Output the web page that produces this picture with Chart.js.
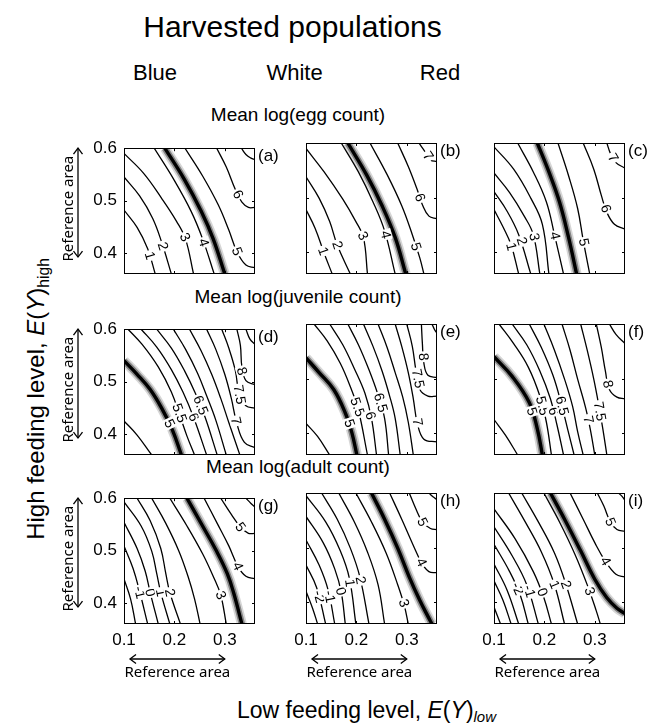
<!DOCTYPE html>
<html><head><meta charset="utf-8">
<script src="https://cdn.jsdelivr.net/npm/chart.js@4.4.1/dist/chart.umd.min.js"></script>
<style>
html,body{margin:0;padding:0;background:#fff;}
#page{position:relative;width:663px;height:725px;overflow:hidden;background:#fff;font-family:"Liberation Sans",Arial,Helvetica,sans-serif;color:#000;}
.t{position:absolute;white-space:nowrap;line-height:1;}
canvas{position:absolute;}
</style></head><body><div id="page"></div>
<script>
// ---------- text / ticks ----------
const mainTitle = 'Harvested populations';
const columns = ['Blue', 'White', 'Red'];
const rowTitles = ['Mean log(egg count)', 'Mean log(juvenile count)', 'Mean log(adult count)'];
const panelLetters = ['(a)','(b)','(c)','(d)','(e)','(f)','(g)','(h)','(i)'];
const xTicks = [0.1, 0.2, 0.3];
const yTicks = [0.4, 0.5, 0.6];
const xRange = [0.1, 0.36];
const yRange = [0.36, 0.6];
const refAreaX = [0.1, 0.3];
const refAreaY = [0.4, 0.6];
const refAreaText = 'Reference area';

// ---------- (a) egg, Blue ----------
const eggBlueLines = [
  [[0.100,0.482],[0.126,0.449],[0.147,0.408],[0.162,0.36]],
  [[0.100,0.545],[0.131,0.509],[0.157,0.466],[0.175,0.42],[0.194,0.36]],
  [[0.100,0.590],[0.139,0.552],[0.175,0.504],[0.204,0.461],[0.222,0.427],[0.238,0.36]],
  [[0.160,0.6],[0.199,0.54],[0.233,0.48],[0.256,0.427],[0.279,0.36]],
  [[0.221,0.6],[0.256,0.547],[0.287,0.492],[0.308,0.444],[0.324,0.403],[0.342,0.377],[0.36,0.372]],
  [[0.284,0.6],[0.303,0.564],[0.321,0.521],[0.334,0.497],[0.347,0.487],[0.36,0.487]],
  [[0.333,0.6],[0.342,0.588],[0.352,0.581],[0.36,0.578]]
];
const eggBlueRef = [[0.181,0.6],[0.220,0.54],[0.253,0.48],[0.277,0.427],[0.300,0.36]];
const eggBlueLabels = [['1',0,0.151,0.395],['2',1,0.177,0.413],['3',2,0.221,0.43],['4',3,0.258,0.42],['5',4,0.324,0.403],['6',5,0.326,0.512]];

// ---------- (b) egg, White ----------
const eggWhiteLines = [
  [[0.100,0.478],[0.118,0.444],[0.136,0.398],[0.152,0.36]],
  [[0.100,0.538],[0.126,0.499],[0.147,0.456],[0.162,0.413],[0.188,0.36]],
  [[0.100,0.590],[0.136,0.547],[0.173,0.497],[0.199,0.456],[0.214,0.427],[0.222,0.36]],
  [[0.170,0.6],[0.204,0.547],[0.233,0.492],[0.256,0.439],[0.277,0.36]],
  [[0.227,0.6],[0.261,0.542],[0.290,0.485],[0.311,0.432],[0.326,0.389],[0.334,0.36]],
  [[0.282,0.6],[0.303,0.557],[0.321,0.514],[0.331,0.487],[0.344,0.466],[0.36,0.461]],
  [[0.324,0.6],[0.337,0.583],[0.347,0.569],[0.36,0.566]]
];
const eggWhiteRef = [[0.183,0.6],[0.220,0.542],[0.251,0.485],[0.277,0.427],[0.298,0.36]];
const eggWhiteLabels = [['1',0,0.134,0.402],['2',1,0.162,0.413],['3',2,0.213,0.43],['4',3,0.258,0.432],['5',4,0.318,0.41],['6',5,0.326,0.5],['7',6,0.342,0.576]];

// ---------- (c) egg, Red ----------
const eggRedLines = [
  [[0.100,0.478],[0.118,0.446],[0.134,0.413],[0.149,0.36]],
  [[0.100,0.511],[0.126,0.475],[0.149,0.432],[0.173,0.36]],
  [[0.100,0.545],[0.131,0.509],[0.160,0.466],[0.178,0.432],[0.191,0.36]],
  [[0.100,0.593],[0.139,0.552],[0.173,0.499],[0.196,0.451],[0.209,0.36]],
  [[0.147,0.6],[0.178,0.547],[0.204,0.492],[0.220,0.432],[0.238,0.36]],
  [[0.227,0.6],[0.248,0.54],[0.266,0.48],[0.277,0.422],[0.290,0.36]],
  [[0.277,0.6],[0.298,0.552],[0.313,0.504],[0.324,0.473],[0.339,0.451],[0.36,0.442]],
  [[0.324,0.6],[0.331,0.581],[0.342,0.564],[0.36,0.554]]
];
const eggRedRef = [[0.186,0.6],[0.209,0.547],[0.230,0.492],[0.248,0.427],[0.264,0.36]];
const eggRedLabels = [['1',0,0.134,0.41],['2',1,0.155,0.42],['3',2,0.180,0.428],['4',4,0.221,0.43],['5',5,0.278,0.418],['6',6,0.322,0.48],['7',7,0.336,0.573]];

// ---------- (d) juvenile, Blue ----------
const juvBlueLines = [
  [[0.100,0.425],[0.126,0.398],[0.155,0.36]],
  [[0.108,0.6],[0.136,0.571],[0.168,0.528],[0.194,0.48],[0.212,0.432],[0.225,0.396],[0.240,0.36]],
  [[0.134,0.6],[0.165,0.566],[0.194,0.523],[0.217,0.48],[0.238,0.432],[0.264,0.36]],
  [[0.165,0.6],[0.194,0.564],[0.220,0.521],[0.243,0.475],[0.261,0.432],[0.285,0.36]],
  [[0.198,0.6],[0.222,0.562],[0.246,0.516],[0.264,0.473],[0.282,0.427],[0.303,0.36]],
  [[0.230,0.6],[0.253,0.559],[0.274,0.514],[0.292,0.468],[0.308,0.422],[0.330,0.36]],
  [[0.264,0.6],[0.282,0.562],[0.300,0.514],[0.313,0.468],[0.324,0.42],[0.339,0.384],[0.36,0.374]],
  [[0.294,0.6],[0.308,0.564],[0.321,0.521],[0.329,0.475],[0.342,0.454],[0.36,0.449]],
  [[0.324,0.6],[0.331,0.569],[0.334,0.528],[0.342,0.502],[0.36,0.494]],
  [[0.342,0.6],[0.350,0.581],[0.36,0.571]]
];
const juvBlueRef = [[0.100,0.540],[0.126,0.514],[0.152,0.485],[0.175,0.449],[0.196,0.408],[0.214,0.36]];
const juvBlueLabels = [['5',-1,0.190,0.42],['5.5',1,0.210,0.44],['6',2,0.238,0.432],['6.5',3,0.252,0.455],['7',6,0.322,0.425],['7.5',7,0.329,0.475],['8',8,0.334,0.52]];

// ---------- (e) juvenile, White ----------
const juvWhiteLines = [
  [[0.100,0.418],[0.123,0.394],[0.147,0.36]],
  [[0.116,0.6],[0.142,0.569],[0.168,0.528],[0.188,0.485],[0.204,0.442],[0.222,0.36]],
  [[0.147,0.6],[0.173,0.562],[0.196,0.518],[0.217,0.473],[0.230,0.427],[0.240,0.36]],
  [[0.183,0.6],[0.204,0.562],[0.225,0.516],[0.243,0.470],[0.256,0.427],[0.264,0.36]],
  [[0.214,0.6],[0.233,0.559],[0.251,0.514],[0.266,0.468],[0.277,0.427],[0.287,0.36]],
  [[0.243,0.6],[0.261,0.557],[0.277,0.511],[0.292,0.466],[0.303,0.42],[0.313,0.36]],
  [[0.277,0.6],[0.290,0.559],[0.303,0.511],[0.313,0.463],[0.321,0.418],[0.334,0.389],[0.36,0.384]],
  [[0.300,0.6],[0.311,0.559],[0.318,0.516],[0.326,0.48],[0.342,0.468],[0.36,0.468]],
  [[0.329,0.6],[0.331,0.564],[0.334,0.528],[0.342,0.506],[0.36,0.502]],
  [[0.350,0.6],[0.355,0.59],[0.36,0.583]]
];
const juvWhiteRef = [[0.100,0.538],[0.126,0.511],[0.155,0.48],[0.178,0.437],[0.191,0.401],[0.201,0.36]];
const juvWhiteLabels = [['5',-1,0.186,0.418],['5.5',1,0.202,0.448],['6',2,0.228,0.432],['6.5',3,0.248,0.456],['7',6,0.321,0.42],['7.5',7,0.322,0.5],['8',8,0.333,0.54]];

// ---------- (f) juvenile, Red ----------
const juvRedLines = [
  [[0.100,0.425],[0.123,0.396],[0.147,0.36]],
  [[0.110,0.6],[0.139,0.564],[0.168,0.521],[0.191,0.468],[0.204,0.42],[0.214,0.36]],
  [[0.136,0.6],[0.165,0.562],[0.191,0.514],[0.212,0.463],[0.225,0.415],[0.238,0.36]],
  [[0.170,0.6],[0.194,0.557],[0.217,0.506],[0.233,0.456],[0.246,0.408],[0.259,0.36]],
  [[0.199,0.6],[0.220,0.552],[0.240,0.499],[0.256,0.449],[0.266,0.403],[0.277,0.36]],
  [[0.235,0.6],[0.251,0.552],[0.266,0.499],[0.282,0.446],[0.292,0.403],[0.300,0.36]],
  [[0.272,0.6],[0.285,0.552],[0.298,0.499],[0.308,0.451],[0.316,0.408],[0.324,0.36]],
  [[0.303,0.6],[0.313,0.557],[0.321,0.514],[0.329,0.48],[0.344,0.466],[0.36,0.463]],
  [[0.329,0.6],[0.342,0.581],[0.36,0.564]]
];
const juvRedRef = [[0.100,0.54],[0.136,0.504],[0.170,0.456],[0.186,0.408],[0.196,0.36]];
const juvRedLabels = [['5',-1,0.175,0.44],['5.5',1,0.196,0.45],['6',2,0.218,0.44],['6.5',3,0.235,0.45],['7',5,0.287,0.425],['7.5',6,0.310,0.44],['8',7,0.326,0.49]];

// ---------- (g) adult, Blue ----------
const adultBlueLines = [
  [[0.100,0.446],[0.113,0.408],[0.123,0.36]],
  [[0.100,0.509],[0.118,0.466],[0.131,0.422],[0.147,0.36]],
  [[0.100,0.554],[0.126,0.504],[0.142,0.461],[0.152,0.42],[0.168,0.36]],
  [[0.100,0.593],[0.134,0.547],[0.155,0.499],[0.165,0.456],[0.173,0.42],[0.191,0.36]],
  [[0.126,0.6],[0.152,0.557],[0.173,0.504],[0.183,0.456],[0.191,0.42],[0.212,0.36]],
  [[0.155,0.6],[0.183,0.552],[0.209,0.499],[0.227,0.451],[0.240,0.408],[0.251,0.36]],
  [[0.191,0.6],[0.225,0.547],[0.256,0.494],[0.277,0.451],[0.292,0.415],[0.303,0.36]],
  [[0.259,0.6],[0.285,0.552],[0.308,0.509],[0.326,0.470],[0.342,0.451],[0.36,0.446]],
  [[0.292,0.6],[0.313,0.569],[0.331,0.545],[0.347,0.533],[0.36,0.533]],
  [[0.342,0.6],[0.352,0.59],[0.36,0.583]]
];
const adultBlueRef = [[0.225,0.6],[0.256,0.547],[0.282,0.502],[0.305,0.456],[0.318,0.418],[0.334,0.36]];
const adultBlueLabels = [['-1',1,0.131,0.42],['0',2,0.152,0.42],['1',3,0.173,0.42],['2',4,0.191,0.42],['3',6,0.292,0.415],['4',7,0.326,0.47],['5',8,0.331,0.545]];

// ---------- (h) adult, White ----------
const adultWhiteLines = [
  [[0.100,0.42],[0.113,0.389],[0.123,0.36]],
  [[0.100,0.468],[0.121,0.427],[0.139,0.36]],
  [[0.100,0.514],[0.126,0.468],[0.144,0.422],[0.157,0.36]],
  [[0.100,0.557],[0.134,0.509],[0.157,0.461],[0.170,0.418],[0.178,0.36]],
  [[0.100,0.595],[0.139,0.547],[0.168,0.494],[0.186,0.444],[0.199,0.36]],
  [[0.131,0.6],[0.162,0.552],[0.188,0.499],[0.207,0.446],[0.225,0.36]],
  [[0.165,0.6],[0.196,0.547],[0.222,0.492],[0.243,0.432],[0.256,0.36]],
  [[0.199,0.6],[0.230,0.547],[0.259,0.490],[0.282,0.432],[0.295,0.394],[0.303,0.36]],
  [[0.266,0.6],[0.290,0.552],[0.313,0.504],[0.329,0.473],[0.344,0.456],[0.36,0.454]],
  [[0.305,0.6],[0.318,0.571],[0.331,0.547],[0.347,0.535],[0.36,0.533]],
  [[0.344,0.6],[0.352,0.593],[0.36,0.588]]
];
const adultWhiteRef = [[0.230,0.6],[0.256,0.552],[0.282,0.499],[0.305,0.446],[0.326,0.403],[0.342,0.374],[0.350,0.36]];
const adultWhiteLabels = [['-2',1,0.126,0.41],['-1',2,0.147,0.41],['0',3,0.169,0.42],['1',4,0.187,0.435],['2',5,0.208,0.44],['3',7,0.294,0.398],['4',8,0.329,0.473],['5',9,0.331,0.547]];

// ---------- (i) adult, Red ----------
const adultRedLines = [
  [[0.100,0.391],[0.113,0.36]],
  [[0.100,0.439],[0.118,0.403],[0.134,0.36]],
  [[0.100,0.470],[0.126,0.422],[0.149,0.36]],
  [[0.100,0.506],[0.131,0.456],[0.152,0.413],[0.168,0.36]],
  [[0.100,0.538],[0.136,0.485],[0.165,0.432],[0.188,0.36]],
  [[0.100,0.571],[0.142,0.516],[0.178,0.456],[0.199,0.408],[0.214,0.36]],
  [[0.129,0.6],[0.162,0.547],[0.194,0.492],[0.220,0.432],[0.240,0.36]],
  [[0.155,0.6],[0.188,0.547],[0.220,0.490],[0.243,0.432],[0.266,0.36]],
  [[0.199,0.6],[0.230,0.547],[0.261,0.487],[0.287,0.427],[0.303,0.384],[0.311,0.36]],
  [[0.251,0.6],[0.277,0.552],[0.300,0.509],[0.321,0.475],[0.342,0.451],[0.36,0.446]],
  [[0.305,0.6],[0.318,0.576],[0.331,0.547],[0.344,0.533],[0.36,0.530]],
  [[0.347,0.6],[0.355,0.593],[0.36,0.586]]
];
const adultRedRef = [[0.212,0.6],[0.240,0.552],[0.272,0.494],[0.300,0.442],[0.324,0.408],[0.344,0.389],[0.36,0.379]];
const adultRedLabels = [['-2',3,0.147,0.425],['-1',4,0.170,0.42],['0',5,0.196,0.418],['1',6,0.220,0.432],['2',7,0.243,0.432],['3',8,0.290,0.42],['4',9,0.321,0.475],['5',10,0.331,0.547]];

// ---------- assembly ----------
const panels = [
  {lines: eggBlueLines, ref: eggBlueRef, labels: eggBlueLabels},
  {lines: eggWhiteLines, ref: eggWhiteRef, labels: eggWhiteLabels},
  {lines: eggRedLines, ref: eggRedRef, labels: eggRedLabels},
  {lines: juvBlueLines, ref: juvBlueRef, labels: juvBlueLabels},
  {lines: juvWhiteLines, ref: juvWhiteRef, labels: juvWhiteLabels},
  {lines: juvRedLines, ref: juvRedRef, labels: juvRedLabels},
  {lines: adultBlueLines, ref: adultBlueRef, labels: adultBlueLabels},
  {lines: adultWhiteLines, ref: adultWhiteRef, labels: adultWhiteLabels},
  {lines: adultRedLines, ref: adultRedRef, labels: adultRedLabels}
];

const FONT = '"Liberation Sans", Arial, Helvetica, sans-serif';
const page = document.getElementById('page');
const colLeft = [124, 306, 494];
const rowTop = [143, 324, 493];
const SIZE = 131, PAD_L = 75, PAD_T = 12, PAD_R = 30, PAD_B = 60;

function addText(html, size, x, baseline, center) {
  const d = document.createElement('div');
  d.className = 't';
  d.innerHTML = html;
  d.style.fontSize = size + 'px';
  d.style.left = x + 'px';
  d.style.top = (baseline - 0.8465 * size) + 'px';
  if (center) d.style.transform = 'translateX(-50%)';
  page.appendChild(d);
  return d;
}
addText(mainTitle, 30, 292.5, 37, true);
const colCenters = [155, 294.5, 440];
columns.forEach((c, i) => addText(c, 22, colCenters[i], 81, true));
const rowBaselines = [121.5, 303, 473];
rowTitles.forEach((t, i) => addText(t, 19, 298, rowBaselines[i], true));
addText('Low feeding level, <i>E</i>(<i>Y</i>)<span style="position:relative;top:0.3em;font-size:0.65em;font-style:italic">low</span>', 23, 237, 718, false);
(function(){
  const d = document.createElement('div');
  d.className = 't';
  d.innerHTML = 'High feeding level, <i>E</i>(<i>Y</i>)<span style="position:relative;top:0.3em;font-size:0.65em">high</span>';
  d.style.fontSize = '24px';
  d.style.left = '36px';
  d.style.top = '399px';
  d.style.transform = 'translate(-50%,-50%) rotate(-90deg)';
  page.appendChild(d);
})();

function arrowHead(ctx, x, y, dx, dy) {
  const L = 6, W = 4.5;
  const nx = -dy, ny = dx;
  ctx.beginPath();
  ctx.moveTo(x - dx * L + nx * W, y - dy * L + ny * W);
  ctx.lineTo(x, y);
  ctx.lineTo(x - dx * L - nx * W, y - dy * L - ny * W);
  ctx.stroke();
}

const decoPlugin = {
  id: 'deco',
  afterDatasetsDraw(chart) {
    const o = chart.options.plugins.deco;
    const ctx = chart.ctx, a = chart.chartArea, xs = chart.scales.x, ys = chart.scales.y;
    ctx.save();
    // contour labels
    ctx.font = '14px ' + FONT;
    for (const [txt, li, vx, vy] of o.labels) {
      const px = xs.getPixelForValue(vx), py = ys.getPixelForValue(vy);
      const src = li < 0 ? o.ref : o.lines[li];
      const pts = src.map(p => [xs.getPixelForValue(p[0]), ys.getPixelForValue(p[1])]);
      let best = Infinity, ang = 0;
      for (let i = 0; i < pts.length - 1; i++) {
        const [x1, y1] = pts[i], [x2, y2] = pts[i + 1];
        const dx = x2 - x1, dy = y2 - y1, L = dx * dx + dy * dy;
        let t = ((px - x1) * dx + (py - y1) * dy) / L;
        t = Math.max(0, Math.min(1, t));
        const qx = x1 + t * dx - px, qy = y1 + t * dy - py, d = qx * qx + qy * qy;
        if (d < best) { best = d; ang = Math.atan2(dy, dx); }
      }
      if (ang > Math.PI / 2) ang -= Math.PI;
      if (ang < -Math.PI / 2) ang += Math.PI;
      ctx.save();
      ctx.translate(px, py);
      ctx.rotate(ang);
      const w = ctx.measureText(txt).width;
      ctx.fillStyle = '#fff';
      ctx.fillRect(-w / 2 - 1.5, -6, w + 3, 12);
      ctx.fillStyle = '#000';
      ctx.textAlign = 'center';
      ctx.textBaseline = 'middle';
      ctx.fillText(txt, 0, 0.5);
      ctx.restore();
    }
    // frame
    ctx.strokeStyle = '#000';
    ctx.lineWidth = 1;
    ctx.strokeRect(Math.round(a.left) + 0.5, Math.round(a.top) + 0.5, Math.round(a.right - a.left) - 1, Math.round(a.bottom - a.top) - 1);
    // inner ticks
    ctx.beginPath();
    xTicks.forEach(v => {
      const p = Math.round(xs.getPixelForValue(v)) + 0.5;
      ctx.moveTo(p, a.bottom); ctx.lineTo(p, a.bottom - 3);
      ctx.moveTo(p, a.top); ctx.lineTo(p, a.top + 3);
    });
    yTicks.forEach(v => {
      const p = Math.round(ys.getPixelForValue(v)) + 0.5;
      ctx.moveTo(a.left, p); ctx.lineTo(a.left + 3, p);
      ctx.moveTo(a.right, p); ctx.lineTo(a.right - 3, p);
    });
    ctx.stroke();
    // panel letter
    ctx.fillStyle = '#000';
    ctx.font = '17px ' + FONT;
    ctx.textAlign = 'left';
    ctx.textBaseline = 'top';
    ctx.fillText(o.letter, a.right + 3, a.top);
    // reference-area arrows
    ctx.lineWidth = 1.3;
    ctx.font = '15px "Noto Sans", sans-serif';
    if (o.showY) {
      const x = a.left - 46;
      const y1 = ys.getPixelForValue(refAreaY[1]), y2 = ys.getPixelForValue(refAreaY[0]);
      ctx.beginPath(); ctx.moveTo(x, y1); ctx.lineTo(x, y2 + 4); ctx.stroke();
      arrowHead(ctx, x, y1, 0, -1);
      arrowHead(ctx, x, y2 + 4, 0, 1);
      ctx.save();
      ctx.translate(a.left - 51, (y1 + y2) / 2 + 8);
      ctx.rotate(-Math.PI / 2);
      ctx.textAlign = 'center';
      ctx.textBaseline = 'alphabetic';
      ctx.fillText(refAreaText, 0, 0);
      ctx.restore();
    }
    if (o.showX) {
      const y = a.bottom + 35;
      const x1 = xs.getPixelForValue(refAreaX[0]), x2 = xs.getPixelForValue(refAreaX[1]);
      ctx.beginPath(); ctx.moveTo(x1 + 6, y); ctx.lineTo(x2, y); ctx.stroke();
      arrowHead(ctx, x1 + 6, y, -1, 0);
      arrowHead(ctx, x2, y, 1, 0);
      ctx.textAlign = 'center';
      ctx.textBaseline = 'alphabetic';
      ctx.fillText(refAreaText, (x1 + x2) / 2 + 3, a.bottom + 53);
    }
    ctx.restore();
  }
};

panels.forEach((p, k) => {
  const r = Math.floor(k / 3), c = k % 3;
  const cv = document.createElement('canvas');
  cv.width = PAD_L + SIZE + PAD_R;
  cv.height = PAD_T + SIZE + PAD_B;
  cv.style.left = (colLeft[c] - PAD_L) + 'px';
  cv.style.top = (rowTop[r] - PAD_T) + 'px';
  page.appendChild(cv);
  const toXY = line => line.map(q => ({x: q[0], y: q[1]}));
  const datasets = p.lines.map(line => ({
    data: toXY(line), showLine: true, borderColor: '#000', borderWidth: 1.3,
    pointRadius: 0, tension: 0.4, fill: false, clip: 0
  }));
  [[10, 'rgba(0,0,0,0.16)'], [6.5, 'rgba(0,0,0,0.38)'], [3.4, '#000']].forEach(([w, col]) => datasets.push({
    data: toXY(p.ref), showLine: true, borderColor: col, borderWidth: w,
    pointRadius: 0, tension: 0.4, fill: false, clip: 0
  }));
  new Chart(cv, {
    type: 'scatter',
    data: {datasets},
    plugins: [decoPlugin],
    options: {
      responsive: false, animation: false, devicePixelRatio: 1, events: [],
      layout: {padding: {left: 0, top: PAD_T, right: PAD_R, bottom: 0}},
      plugins: {
        legend: {display: false}, tooltip: {enabled: false},
        deco: {labels: p.labels, lines: p.lines, ref: p.ref, letter: panelLetters[k], showY: c === 0, showX: r === 2}
      },
      scales: {
        x: {
          type: 'linear', min: xRange[0], max: xRange[1],
          grid: {display: false, drawTicks: false}, border: {display: false},
          afterBuildTicks: s => { s.ticks = xTicks.map(v => ({value: v})); },
          afterFit: s => { s.height = PAD_B; },
          ticks: {display: r === 2, padding: 6, color: '#000', autoSkip: false, maxRotation: 0,
                  font: {family: FONT, size: 17}, callback: v => String(v)}
        },
        y: {
          type: 'linear', min: yRange[0], max: yRange[1],
          grid: {display: false, drawTicks: false}, border: {display: false},
          afterBuildTicks: s => { s.ticks = yTicks.map(v => ({value: v})); },
          afterFit: s => { s.width = PAD_L; },
          ticks: {display: c === 0, padding: 7, color: '#000', autoSkip: false,
                  font: {family: FONT, size: 17}, callback: v => String(v)}
        }
      }
    }
  });
});
</script></body></html>
